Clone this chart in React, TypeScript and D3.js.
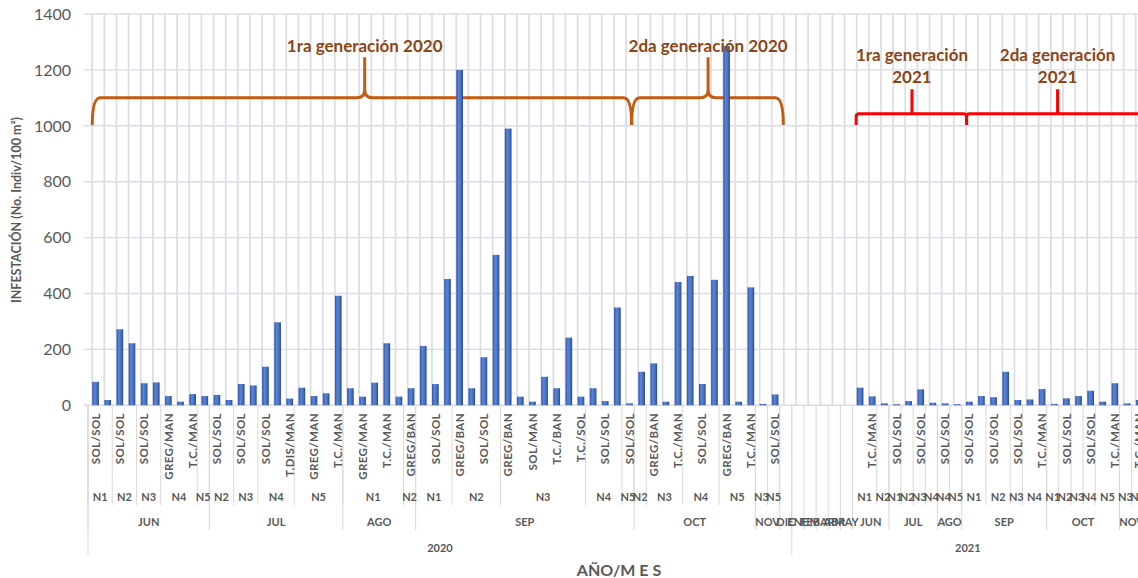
import React from 'react';
import * as d3 from 'd3';

// multi-level category axis, written as runs of [label, number of categories]
const years: [string, number][] = [
  ['2020', 58],
  ['2021', 29],
];

const months: [string, number][] = [
  ['JUN', 10], ['JUL', 11], ['AGO', 6], ['SEP', 18], ['OCT', 10], ['NOV', 2], ['DIC', 1],
  ['ENE', 1], ['FEB', 1], ['MAR', 1], ['ABR', 1], ['MAY', 1],
  ['JUN', 3], ['JUL', 4], ['AGO', 2], ['SEP', 7], ['OCT', 6], ['NOV', 2],
];

const niveles: [string, number][] = [
  ['N1', 2], ['N2', 2], ['N3', 2], ['N4', 3], ['N5', 1],
  ['N2', 2], ['N3', 2], ['N4', 3], ['N5', 4],
  ['N1', 5], ['N2', 1],
  ['N1', 3], ['N2', 4], ['N3', 7], ['N4', 3], ['N5', 1],
  ['N2', 1], ['N3', 3], ['N4', 3], ['N5', 3],
  ['N3', 1], ['N5', 1],
  ['', 6],
  ['N1', 2], ['N2', 1],
  ['N1', 1], ['N2', 1], ['N3', 1], ['N4', 1],
  ['N4', 1], ['N5', 1],
  ['N1', 2], ['N2', 2], ['N3', 1], ['N4', 2],
  ['N1', 1], ['N2', 1], ['N3', 1], ['N4', 1], ['N5', 2],
  ['N3', 1], ['N4', 1],
];

// inner labels: Excel only shows every second one
const tipos: string[] = [
  'SOL/SOL', '', 'SOL/SOL', '', 'SOL/SOL', '', 'GREG/MAN', '', 'T.C./MAN', '',
  'SOL/SOL', '', 'SOL/SOL', '', 'SOL/SOL', '', 'T.DIS/MAN', '', 'GREG/MAN', '', 'T.C./MAN',
  '', 'GREG/MAN', '', 'T.C./MAN', '', 'GREG/BAN',
  '', 'SOL/SOL', '', 'GREG/BAN', '', 'SOL/SOL', '', 'GREG/BAN', '', 'SOL/MAN', '', 'T.C./BAN', '', 'T.C./SOL', '', 'SOL/SOL', '', 'SOL/SOL',
  '', 'GREG/BAN', '', 'T.C./MAN', '', 'SOL/SOL', '', 'GREG/BAN', '', 'T.C./MAN',
  '', 'SOL/SOL',
  '', '', '', '', '', '',
  '', 'T.C./MAN', '',
  'SOL/SOL', '', 'SOL/SOL', '',
  'SOL/SOL', '',
  'SOL/SOL', '', 'SOL/SOL', '', 'SOL/SOL', '', 'T.C./MAN',
  '', 'SOL/SOL', '', 'SOL/SOL', '', 'T.C./MAN',
  '', 'T.C./MAN',
];

const infestacion: (number | null)[] = [
  84, 19, 272, 222, 79, 82, 33, 13, 40, 33,
  37, 19, 76, 71, 138, 297, 24, 63, 33, 43, 392,
  61, 31, 81, 222, 31, 61,
  212, 76, 452, 1200, 61, 172, 538, 990, 31, 13, 102, 61, 242, 31, 61, 15, 350, 7,
  120, 150, 13, 441, 463, 76, 449, 1285, 13, 422,
  5, 39,
  null, null, null, null, null, null,
  63, 32, 7,
  4, 15, 57, 9,
  7, 4,
  13, 33, 29, 120, 19, 21, 58,
  5, 25, 33, 52, 13, 79,
  7, 19,
];

const yTicks = [0, 200, 400, 600, 800, 1000, 1200, 1400];

// brace annotations, positioned in category units / axis values
const gen2020 = [
  { text: ['1ra generación 2020'], from: 0.35, peak: 22.8, to: 44.8 },
  { text: ['2da generación 2020'], from: 44.8, peak: 51.1, to: 57.3 },
];
const gen2021 = [
  { text: ['1ra generación', '2021'], from: 63.3, peak: 67.9, to: 72.4 },
  { text: ['2da generación', '2021'], from: 72.4, peak: 79.9, to: 92 },
];

const W = 1138;
const H = 578;
const FONT = 'Lato, "Open Sans", sans-serif';
const GRAY = '#595959';
const LINE = '#d9d9d9';

function toSpans(runs: [string, number][]) {
  let s = 0;
  return runs.map(([label, n]) => {
    const r = { label, start: s, end: s + n };
    s += n;
    return r;
  });
}

export default function App() {
  const N = tipos.length;
  const left = 88;
  const bw = 12.135;
  const x = d3.scaleBand<number>().domain(d3.range(N)).range([left, left + N * bw]).padding(0);
  const xe = d3.scaleLinear().domain([0, N]).range([left, left + N * bw]);
  const y = d3.scaleLinear().domain([0, 1400]).range([405.3, 14]);
  const y0 = y(0);

  const yearSpans = toSpans(years);
  const monthSpans = toSpans(months);
  const nivelSpans = toSpans(niveles);

  const bounds = (sp: { start: number; end: number; label: string }[]) => {
    const b = new Set<number>();
    sp.forEach((s) => {
      if (s.label === '') return;
      b.add(s.start);
      b.add(s.end);
    });
    return Array.from(b);
  };

  const barX = (i: number) => (x(i) as number) + bw * 0.35;
  const barW = bw * 0.55;

  const orangeBrace = (b: { from: number; peak: number; to: number }) => {
    const x1 = xe(b.from), xp = xe(b.peak), x2 = xe(b.to);
    const yl = y(1100), yt = y(1003), yp = y(1245);
    const r = 8;
    return [
      `M${x1},${yt} Q${x1},${yl} ${x1 + r},${yl}`,
      `L${xp - r},${yl} Q${xp},${yl} ${xp},${yl - r}`,
      `L${xp},${yp}`,
      `M${xp},${yl - r} Q${xp},${yl} ${xp + r},${yl}`,
      `L${x2 - r},${yl} Q${x2},${yl} ${x2},${yt}`,
    ].join(' ');
  };

  const redBrace = (b: { from: number; peak: number; to: number }) => {
    const x1 = xe(b.from), xp = xe(b.peak), x2 = xe(b.to);
    const yl = y(1043), yt = y(1003), yp = y(1131);
    const r = 3;
    return [
      `M${x1},${yt} L${x1},${yl + r} Q${x1},${yl} ${x1 + r},${yl}`,
      `L${x2 - r},${yl} Q${x2},${yl} ${x2},${yl + r} L${x2},${yt}`,
      `M${xp},${yl} L${xp},${yp}`,
    ].join(' ');
  };

  return (
    <div style={{ position: 'absolute', left: 0, top: 0, width: W, height: H, overflow: 'hidden', background: '#fff' }}>
      <svg width={W} height={H} style={{ display: 'block', fontFamily: FONT }}>
        <defs>
          <linearGradient id="barGrad" x1="0" x2="1" y1="0" y2="0">
            <stop offset="0%" stopColor="#30529f" />
            <stop offset="35%" stopColor="#5a86d8" />
            <stop offset="70%" stopColor="#4671c2" />
            <stop offset="100%" stopColor="#27468f" />
          </linearGradient>
        </defs>

        {/* horizontal gridlines */}
        {yTicks.map((t) => (
          <line key={'h' + t} x1={84} x2={W} y1={y(t)} y2={y(t)} stroke="#dadce2" strokeWidth={1.4} />
        ))}
        {/* vertical gridlines */}
        {d3.range(N).map((i) => (
          <line
            key={'v' + i}
            x1={(x(i) as number) + bw * 0.345}
            x2={(x(i) as number) + bw * 0.345}
            y1={y(1400)}
            y2={y0}
            stroke="#dadde5"
            strokeWidth={1.7}
          />
        ))}

        {/* y ticks */}
        {yTicks.map((t) => (
          <text key={'yt' + t} x={71} y={y(t)} dy="0.36em" textAnchor="end" fontSize={16} fill={GRAY}>
            {t}
          </text>
        ))}
        <text
          transform={`translate(17,${210}) rotate(-90)`}
          textAnchor="middle"
          dy="0.35em"
          fontSize={12.5}
          fontWeight="bold"
          fill={GRAY}
        >
          INFESTACIÓN (No. Indiv/100 m²)
        </text>

        {/* category separators */}
        {bounds(nivelSpans).map((b) => (
          <line key={'sn' + b} x1={xe(b)} x2={xe(b)} y1={y0} y2={505} stroke={LINE} strokeWidth={1} />
        ))}
        {bounds(monthSpans).map((b) => (
          <line key={'sm' + b} x1={xe(b)} x2={xe(b)} y1={y0} y2={530} stroke={LINE} strokeWidth={1} />
        ))}
        {bounds(yearSpans).map((b) => (
          <line key={'sy' + b} x1={xe(b)} x2={xe(b)} y1={y0} y2={555} stroke={LINE} strokeWidth={1} />
        ))}

        {/* braces under the bars */}
        {gen2020.map((b, i) => (
          <path key={'ob' + i} d={orangeBrace(b)} fill="none" stroke="#c55a11" strokeWidth={3} strokeLinejoin="round" />
        ))}
        {gen2021.map((b, i) => (
          <path key={'rb' + i} d={redBrace(b)} fill="none" stroke="#ff0000" strokeWidth={3} strokeLinejoin="round" />
        ))}

        {/* bars */}
        {infestacion.map((v, i) =>
          v == null ? null : (
            <rect key={'b' + i} x={barX(i)} y={y(v)} width={barW} height={y0 - y(v)} fill="url(#barGrad)" />
          ),
        )}

        {/* inner rotated labels */}
        {tipos.map((t, i) =>
          t ? (
            <text
              key={'tl' + i}
              transform={`translate(${barX(i) + barW / 2},413) rotate(-90)`}
              textAnchor="end"
              dy="0.36em"
              fontSize={11.5}
              fontWeight="bold"
              letterSpacing={0.4}
              fill={GRAY}
            >
              {t}
            </text>
          ) : null,
        )}

        {nivelSpans.map((s, i) =>
          s.label ? (
            <text key={'nl' + i} x={(xe(s.start) + xe(s.end)) / 2} y={497} dy="0.36em" textAnchor="middle" fontSize={11} fontWeight="bold" fill={GRAY}>
              {s.label}
            </text>
          ) : null,
        )}
        {monthSpans.map((s, i) => (
          <text key={'ml' + i} x={(xe(s.start) + xe(s.end)) / 2} y={522} dy="0.36em" textAnchor="middle" fontSize={11} fontWeight="bold" fill={GRAY}>
            {s.label}
          </text>
        ))}
        {yearSpans.map((s, i) => (
          <text key={'yl' + i} x={(xe(s.start) + xe(s.end)) / 2} y={548} dy="0.36em" textAnchor="middle" fontSize={11} fontWeight="bold" fill={GRAY}>
            {s.label}
          </text>
        ))}
        <text x={619} y={570} dy="0.36em" textAnchor="middle" fontSize={16} fontWeight="bold" fill={GRAY}>
          AÑO/M E S
        </text>

        {/* annotation texts */}
        {gen2020.map((b, i) => (
          <text key={'ot' + i} x={xe(b.peak)} y={y(1245) - 5} textAnchor="middle" fontSize={17} fontWeight="bold" fill="#8a4616">
            {b.text[0]}
          </text>
        ))}
        {gen2021.map((b, i) => (
          <text key={'rt' + i} x={xe(b.peak)} y={y(1131) - 28} textAnchor="middle" fontSize={17} fontWeight="bold" fill="#8a4616">
            <tspan x={xe(b.peak)}>{b.text[0]}</tspan>
            <tspan x={xe(b.peak)} dy={22}>{b.text[1]}</tspan>
          </text>
        ))}
      </svg>
    </div>
  );
}
